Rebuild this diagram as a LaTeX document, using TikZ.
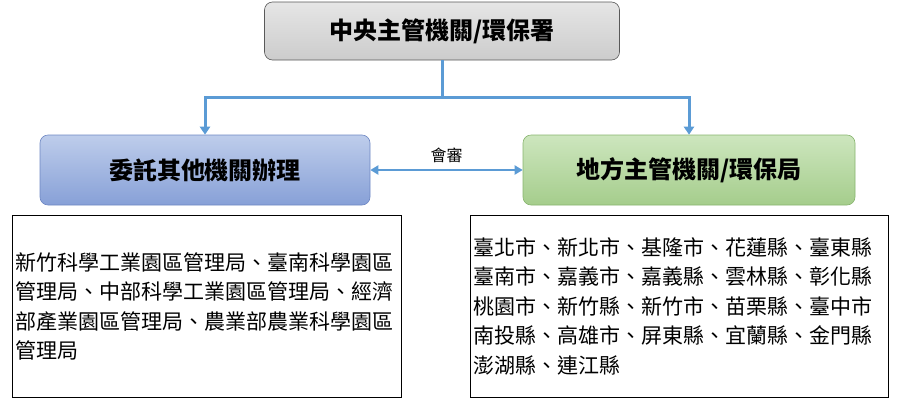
\documentclass[tikz,border=0pt]{standalone}
\usepackage{fontspec}
\newfontfamily\cjk{Noto Sans CJK TC}
\usetikzlibrary{arrows.meta}
\definecolor{conn}{HTML}{5B9BD5}
\tikzset{
 x=1pt,y=-1pt,
 titlebox/.style={draw=#1!70!black,rounded corners=8pt,minimum height=58pt,font=\cjk\fontsize{24}{27}\selectfont\bfseries,line width=0.6pt},
 textbox/.style={draw=black,line width=0.8pt,minimum height=182pt,align=left,anchor=north west,inner sep=3pt,font=\cjk\fontsize{21}{29.5}\selectfont},
 conn/.style={draw=conn,line width=3pt,-{Triangle[length=8pt,width=10pt]}},
}
\begin{document}
\begin{tikzpicture}
\useasboundingbox (0,0) rectangle (898,400);
\node[titlebox=gray,top color=gray!20,bottom color=gray!40,minimum width=355pt] (top) at (442,31) {中央主管機關/環保署};
\node[titlebox=blue,top color={rgb,255:red,190;green,205;blue,235},bottom color={rgb,255:red,135;green,160;blue,215},minimum width=330pt,minimum height=70pt,draw={rgb,255:red,110;green,135;blue,195}] (left) at (205,170) {委託其他機關辦理};
\node[titlebox=green,top color={rgb,255:red,205;green,230;blue,190},bottom color={rgb,255:red,165;green,205;blue,140},minimum width=332pt,minimum height=70pt,draw={rgb,255:red,135;green,180;blue,110}] (right) at (689,170) {地方主管機關/環保局};
\coordinate (j) at (442,97);
\draw[conn,-] (top.south) -- (j);
\draw[conn] (j) -| (left.north);
\draw[conn] (j) -| (right.north);
\draw[conn,{Triangle[length=8pt,width=9pt]}-{Triangle[length=8pt,width=9pt]},line width=2pt] (left.east) -- node[above=3pt,font=\cjk\fontsize{16}{18}\selectfont,text=black]{會審} (right.west);
\node[textbox,minimum width=389pt,text width=383pt] (lt) at (12,215) {新竹科學工業園區管理局、臺南科學園區\\管理局、中部科學工業園區管理局、經濟\\部產業園區管理局、農業部農業科學園區\\管理局};
\node[textbox,minimum width=418pt,text width=412pt] (rt) at (470,215) {臺北市、新北市、基隆市、花蓮縣、臺東縣\\臺南市、嘉義市、嘉義縣、雲林縣、彰化縣\\桃園市、新竹縣、新竹市、苗栗縣、臺中市\\南投縣、高雄市、屏東縣、宜蘭縣、金門縣\\澎湖縣、連江縣};
\end{tikzpicture}
\end{document}
